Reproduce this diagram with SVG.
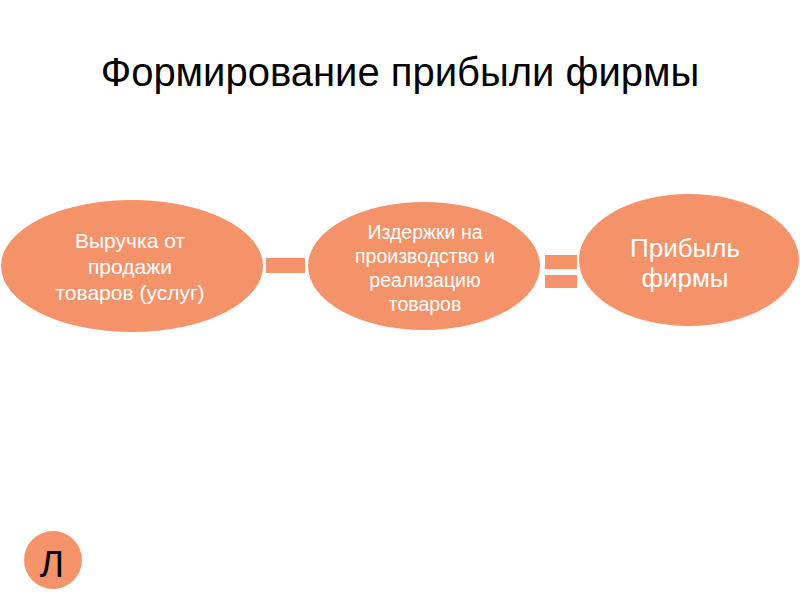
<svg xmlns="http://www.w3.org/2000/svg" width="800" height="600" viewBox="0 0 800 600">
<style>
.node{fill:#F4936A;}
.t{font-family:"Liberation Sans",Arial,sans-serif;fill:#ffffff;text-anchor:middle;}
.title{font-family:"Liberation Sans",Arial,sans-serif;fill:#000000;text-anchor:middle;font-size:40px;}
</style>
<rect width="800" height="600" fill="#ffffff"/>
<text class="title" x="400" y="86">Формирование прибыли фирмы</text>
<g id="node-revenue">
<ellipse class="node" cx="132" cy="266" rx="131" ry="66"/>
<text class="t" font-size="21" x="130" y="248">Выручка от</text>
<text class="t" font-size="21" x="130" y="274">продажи</text>
<text class="t" font-size="21" x="130" y="300">товаров (услуг)</text>
</g>
<g id="node-costs">
<ellipse class="node" cx="424" cy="266" rx="116" ry="64"/>
<text class="t" font-size="19.5" x="425" y="239">Издержки на</text>
<text class="t" font-size="19.5" x="425" y="263">производство и</text>
<text class="t" font-size="19.5" x="425" y="287">реализацию</text>
<text class="t" font-size="19.5" x="425" y="311">товаров</text>
</g>
<g id="node-profit">
<ellipse class="node" cx="689" cy="260" rx="110" ry="66"/>
<text class="t" font-size="26" x="685" y="257">Прибыль</text>
<text class="t" font-size="26" x="685" y="287">фирмы</text>
</g>
<g id="connectors">
<rect class="node" x="266" y="258" width="39" height="15"/>
<rect class="node" x="545" y="255" width="32" height="14"/>
<rect class="node" x="545" y="275" width="32" height="13"/>
</g>
<g id="node-badge">
<circle class="node" cx="53" cy="560" r="29"/>
<text font-family="Liberation Sans, Arial, sans-serif" font-size="37" fill="#000000" text-anchor="middle" x="52" y="577">Л</text>
</g>
</svg>
